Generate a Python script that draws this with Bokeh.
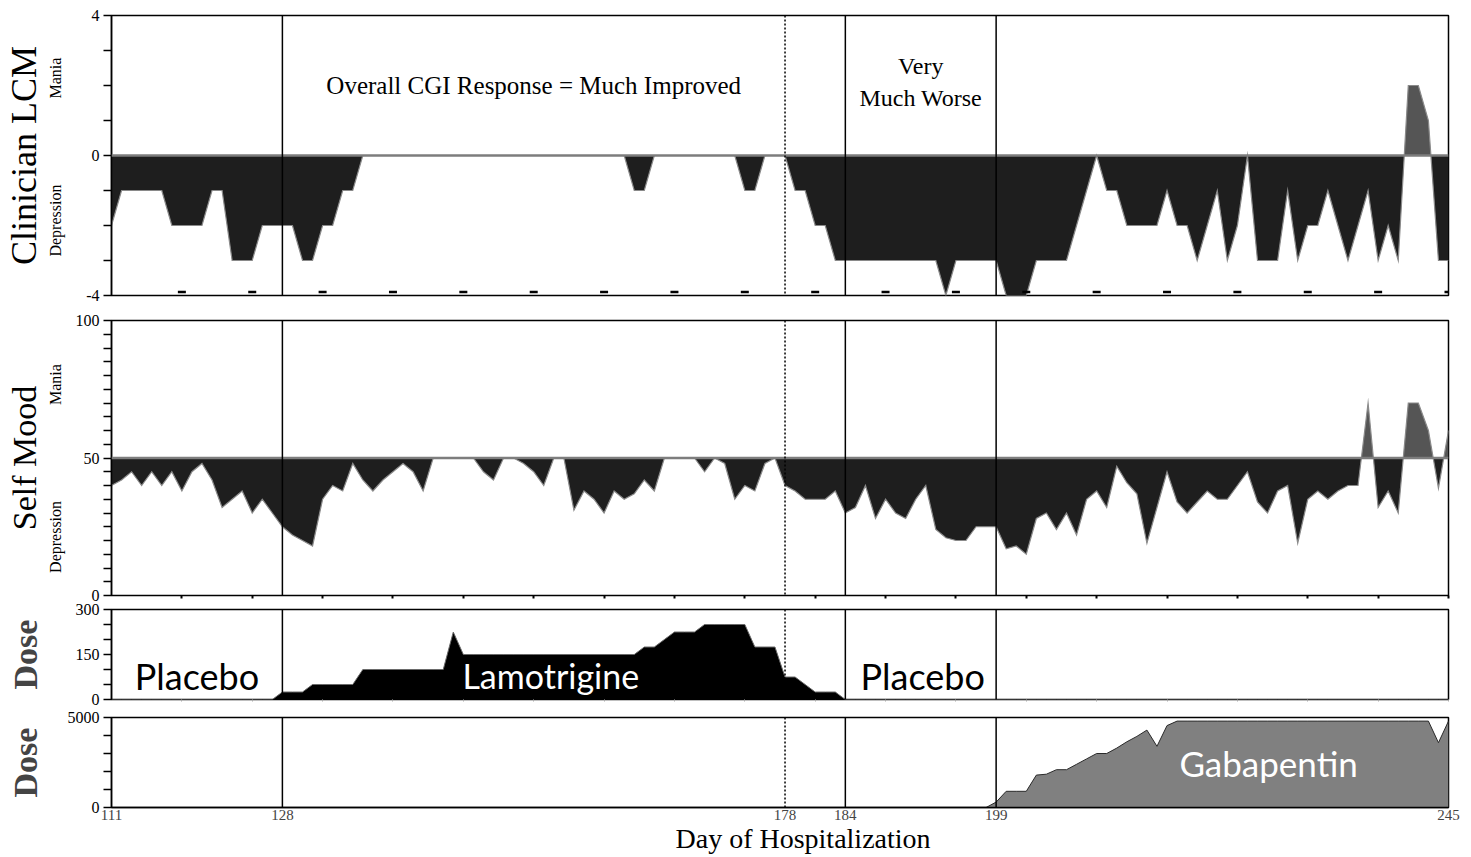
import numpy as np
from bokeh.plotting import figure
from bokeh.layouts import column
from bokeh.models import Range1d, FixedTicker, Span, Label, LinearAxis, Title
from bokeh.embed import file_html
from bokeh.resources import INLINE

# ---------------- data (one value per day of hospitalization) ----------------
days = np.arange(111, 245)

clinician_lcm = [
    -2, -1, -1, -1, -1, -1, -2, -2, -2, -2,   # 111-120
    -1, -1, -3, -3, -3, -2, -2, -2, -2, -3,   # 121-130
    -3, -2, -2, -1, -1, 0, 0, 0, 0, 0,        # 131-140
    0, 0, 0, 0, 0, 0, 0, 0, 0, 0,             # 141-150
    0, 0, 0, 0, 0, 0, 0, 0, 0, 0,             # 151-160
    0, 0, -1, -1, 0, 0, 0, 0, 0, 0,           # 161-170
    0, 0, 0, -1, -1, 0, 0, 0, -1, -1,         # 171-180
    -2, -2, -3, -3, -3, -3, -3, -3, -3, -3,   # 181-190
    -3, -3, -3, -4, -3, -3, -3, -3, -3, -4,   # 191-200
    -4, -4, -3, -3, -3, -3, -2, -1, 0, -1,    # 201-210
    -1, -2, -2, -2, -2, -1, -2, -2, -3, -2,   # 211-220
    -1, -3, -2, 0, -3, -3, -3, -1, -3, -2,    # 221-230
    -2, -1, -2, -3, -2, -1, -3, -2, -3, 2,    # 231-240
    2, 1, -3, -3,                             # 241-244
]

self_mood = [
    40, 42, 45, 40, 45, 40, 45, 38, 45, 48,   # 111-120
    42, 32, 35, 38, 30, 35, 30, 25, 22, 20,   # 121-130
    18, 35, 40, 38, 48, 42, 38, 42, 45, 48,   # 131-140
    45, 38, 50, 50, 50, 50, 50, 45, 42, 50,   # 141-150
    50, 48, 45, 40, 50, 50, 31, 38, 35, 30,   # 151-160
    38, 35, 37, 42, 38, 50, 50, 50, 50, 45,   # 161-170
    50, 48, 35, 40, 38, 48, 50, 40, 38, 35,   # 171-180
    35, 35, 38, 30, 32, 40, 28, 35, 30, 28,   # 181-190
    35, 40, 24, 21, 20, 20, 25, 25, 25, 17,   # 191-200
    18, 15, 28, 30, 24, 30, 22, 35, 38, 32,   # 201-210
    47, 41, 37, 19, 32, 45, 34, 30, 34, 38,   # 211-220
    35, 35, 40, 45, 34, 30, 38, 40, 19, 35,   # 221-230
    38, 35, 38, 40, 40, 70, 32, 38, 30, 70,   # 231-240
    70, 60, 39, 60,                           # 241-244
]

lamotrigine_mg = (
    [0] * 17                                               # 111-127
    + [25, 25, 25]                                         # 128-130
    + [50, 50, 50, 50, 50]                                 # 131-135
    + [100, 100, 100, 100, 100, 100, 100, 100, 100]        # 136-144
    + [225]                                                # 145
    + [150] * 18                                           # 146-163
    + [175, 175, 200, 225, 225, 225]                       # 164-169
    + [250, 250, 250, 250, 250]                            # 170-174
    + [175, 175, 175, 75, 75, 50, 25, 25, 25]              # 175-183
    + [0] * 61                                             # 184-244
)

gabapentin_mg = (
    [0] * 88                                               # 111-198
    + [300, 900, 900, 900, 1800, 1850, 2100, 2100]         # 199-206
    + [2400, 2700, 3000, 3000, 3300, 3650, 3950, 4300]     # 207-214
    + [3400, 4550]                                         # 215-216
    + [4800] * 26                                          # 217-242
    + [3600, 4800]                                         # 243-244
)

phase_days = [128, 184, 199]          # solid phase boundaries
switch_day = 178                       # dotted line
day_ticks = [111, 128, 178, 184, 199, 244]
day_tick_labels = ["111", "128", "178", "184", "199", "245"]
week_ticks = [118, 125, 132, 139, 146, 153, 160, 167, 174, 181,
              188, 195, 202, 209, 216, 223, 230, 237, 244]

# ---------------- styling ----------------
SERIF = "Liberation Serif"
SANS = "Lato"
DEP = "#1e1e1e"
MAN = "#555555"
OUTLINE = "#8a8a8a"
BASE = "#7d7d7d"

x_range = Range1d(111, 244)
FRAME_W = 1337
LEFT = 110


def make_fig(frame_h, ymin, ymax, top, bottom, xaxis=True):
    p = figure(frame_width=FRAME_W, frame_height=frame_h, x_range=x_range,
               y_range=Range1d(ymin, ymax), output_backend="svg",
               toolbar_location=None, min_border_left=LEFT, min_border_right=18,
               min_border_top=top, min_border_bottom=bottom,
               x_axis_location="below" if xaxis else None)
    p.grid.visible = False
    p.outline_line_color = "black"
    p.outline_line_width = 1.5
    p.outline_line_alpha = 1.0
    p.background_fill_color = "white"
    p.border_fill_color = "white"
    return p


def style_yaxis(p, major, minor, overrides=None):
    ax = p.yaxis[0]
    ax.ticker = FixedTicker(ticks=major, minor_ticks=minor)
    ax.major_tick_out = 8
    ax.major_tick_in = 0
    ax.minor_tick_out = 8
    ax.minor_tick_in = 0
    ax.axis_line_color = "black"
    ax.axis_line_width = 1.5
    ax.major_tick_line_width = 1.5
    ax.minor_tick_line_width = 1.5
    ax.major_label_text_font = SERIF
    ax.major_label_text_font_size = "16px"
    ax.major_label_text_color = "black"
    ax.major_label_standoff = 4
    if overrides:
        ax.major_label_overrides = overrides
    return ax


def side_axis(p, tick_pos, tick_text, standoff, title, title_size, title_standoff):
    ax = LinearAxis(ticker=FixedTicker(ticks=tick_pos),
                    major_label_overrides=dict(zip(tick_pos, tick_text)),
                    major_label_orientation="vertical",
                    axis_line_color=None, major_tick_line_color=None,
                    minor_tick_line_color=None, major_tick_out=0, major_tick_in=0,
                    minor_tick_out=0, minor_tick_in=0,
                    major_label_standoff=standoff,
                    major_label_text_font=SERIF, major_label_text_font_size="16px",
                    major_label_text_color="black",
                    axis_label=title, axis_label_standoff=title_standoff,
                    axis_label_text_font=SERIF, axis_label_text_font_size=title_size,
                    axis_label_text_font_style="normal",
                    axis_label_text_color="black")
    p.add_layout(ax, "left")


def add_phase_lines(p):
    for d in phase_days:
        p.add_layout(Span(location=d, dimension="height", line_color="black",
                          line_width=1.5))
    p.add_layout(Span(location=switch_day, dimension="height", line_color="black",
                      line_width=1.5, line_dash="2 2"))


def split_at_base(x, y, base):
    xs, ys = [x[0]], [y[0]]
    for i in range(1, len(x)):
        a, b = y[i - 1] - base, y[i] - base
        if a * b < 0:
            t = a / (a - b)
            xs.append(x[i - 1] + t * (x[i] - x[i - 1]))
            ys.append(base)
        xs.append(x[i])
        ys.append(y[i])
    return np.array(xs, dtype=float), np.array(ys, dtype=float)


def mood_area(p, x, y, base):
    xs, ys = split_at_base(list(x), list(y), base)
    p.varea(x=xs, y1=base, y2=np.minimum(ys, base), fill_color=DEP)
    p.varea(x=xs, y1=base, y2=np.maximum(ys, base), fill_color=MAN)
    p.line(x=x, y=y, line_color=OUTLINE, line_width=1.2, line_join="miter")
    p.add_layout(Span(location=base, dimension="width", line_color=BASE,
                      line_width=2.5))


def in_label(p, x, y, text, font, size, color="black"):
    p.add_layout(Label(x=x, y=y, text=text, text_align="center",
                       text_baseline="middle", text_font=font,
                       text_font_size=size, text_color=color))


# ---------------- panel 1: clinician LCM ----------------
p1 = make_fig(280, -4, 4, 15, 12, xaxis=False)
mood_area(p1, days, clinician_lcm, 0)
p1.scatter(x=week_ticks, y=[-3.9] * len(week_ticks), marker="dash", size=8,
           line_color="black", line_width=2.5)
add_phase_lines(p1)
style_yaxis(p1, [-4, 0, 4], [-3, -2, -1, 1, 2, 3], {-4: "-4"})
side_axis(p1, [2.21, -1.86], ["Mania", "Depression"], 19, "Clinician LCM", "36px", 1)
in_label(p1, 153, 2.0, "Overall CGI Response = Much Improved", SERIF, "25px")
in_label(p1, 191.5, 2.57, "Very", SERIF, "24px")
in_label(p1, 191.5, 1.63, "Much Worse", SERIF, "24px")

# ---------------- panel 2: self mood ----------------
p2 = make_fig(275, 0, 100, 13, 7)
mood_area(p2, days, self_mood, 50)
add_phase_lines(p2)
style_yaxis(p2, [0, 50, 100], [5, 10, 15, 20, 25, 30, 35, 40, 45, 55, 60, 65,
                                70, 75, 80, 85, 90, 95])
side_axis(p2, [76.7, 21.3], ["Mania", "Depression"], 8, "Self Mood", "34px", 2)
xa = p2.xaxis[0]
xa.ticker = FixedTicker(ticks=week_ticks)
xa.major_tick_out = 3
xa.major_tick_in = 0
xa.major_tick_line_width = 2
xa.axis_line_color = None
xa.major_label_text_font_size = "1px"
xa.major_label_text_alpha = 0
xa.major_label_standoff = 0

# ---------------- panel 3: lamotrigine dose ----------------
p3 = make_fig(90, 0, 300, 7, 9)
p3.varea(x=days, y1=0, y2=lamotrigine_mg, fill_color="black")
p3.line(x=days, y=lamotrigine_mg, line_color="#6a6a6a", line_width=1)
add_phase_lines(p3)
a3 = style_yaxis(p3, [0, 150, 300], [50, 100, 200, 250])
a3.axis_label = "Dose"
a3.axis_label_standoff = 29
a3.axis_label_text_font = SERIF
a3.axis_label_text_font_size = "34px"
a3.axis_label_text_font_style = "bold"
xb = p3.xaxis[0]
xb.ticker = FixedTicker(ticks=week_ticks)
xb.major_tick_out = 2
xb.major_tick_in = 0
xb.major_tick_line_color = "#aaaaaa"
xb.axis_line_color = None
xb.major_label_text_font_size = "1px"
xb.major_label_text_alpha = 0
xb.major_label_standoff = 0
in_label(p3, 119.5, 80, "Placebo", SANS, "36px", "black")
in_label(p3, 154.7, 79, "Lamotrigine", SANS, "34px", "white")
in_label(p3, 191.7, 80, "Placebo", SANS, "36px", "black")

# ---------------- panel 4: gabapentin dose ----------------
p4 = make_fig(90, 0, 5000, 9, 50)
p4.varea(x=days, y1=0, y2=gabapentin_mg, fill_color="#808080")
p4.line(x=days, y=gabapentin_mg, line_color="#2a2a2a", line_width=1)
add_phase_lines(p4)
a4 = style_yaxis(p4, [0, 5000], [1000, 2000, 3000, 4000])
a4.axis_label = "Dose"
a4.axis_label_standoff = 21
a4.axis_label_text_font = SERIF
a4.axis_label_text_font_size = "34px"
a4.axis_label_text_font_style = "bold"
in_label(p4, 226.1, 2470, "Gabapentin", SANS, "35px", "white")
xc = p4.xaxis[0]
xc.ticker = FixedTicker(ticks=day_ticks)
xc.major_label_overrides = dict(zip(day_ticks, day_tick_labels))
xc.major_tick_out = 0
xc.major_tick_in = 0
xc.axis_line_color = "black"
xc.axis_line_width = 1.5
xc.major_label_text_font = SERIF
xc.major_label_text_font_size = "15px"
xc.major_label_standoff = 2
p4.add_layout(Title(text="Day of Hospitalization", align="left", offset=564,
                    vertical_align="top", standoff=0, text_font=SERIF,
                    text_font_size="28px", text_font_style="normal",
                    text_color="black"), "below")

layout = column(p1, p2, p3, p4, spacing=0)
open("out.html", "w").write(file_html(layout, INLINE))
